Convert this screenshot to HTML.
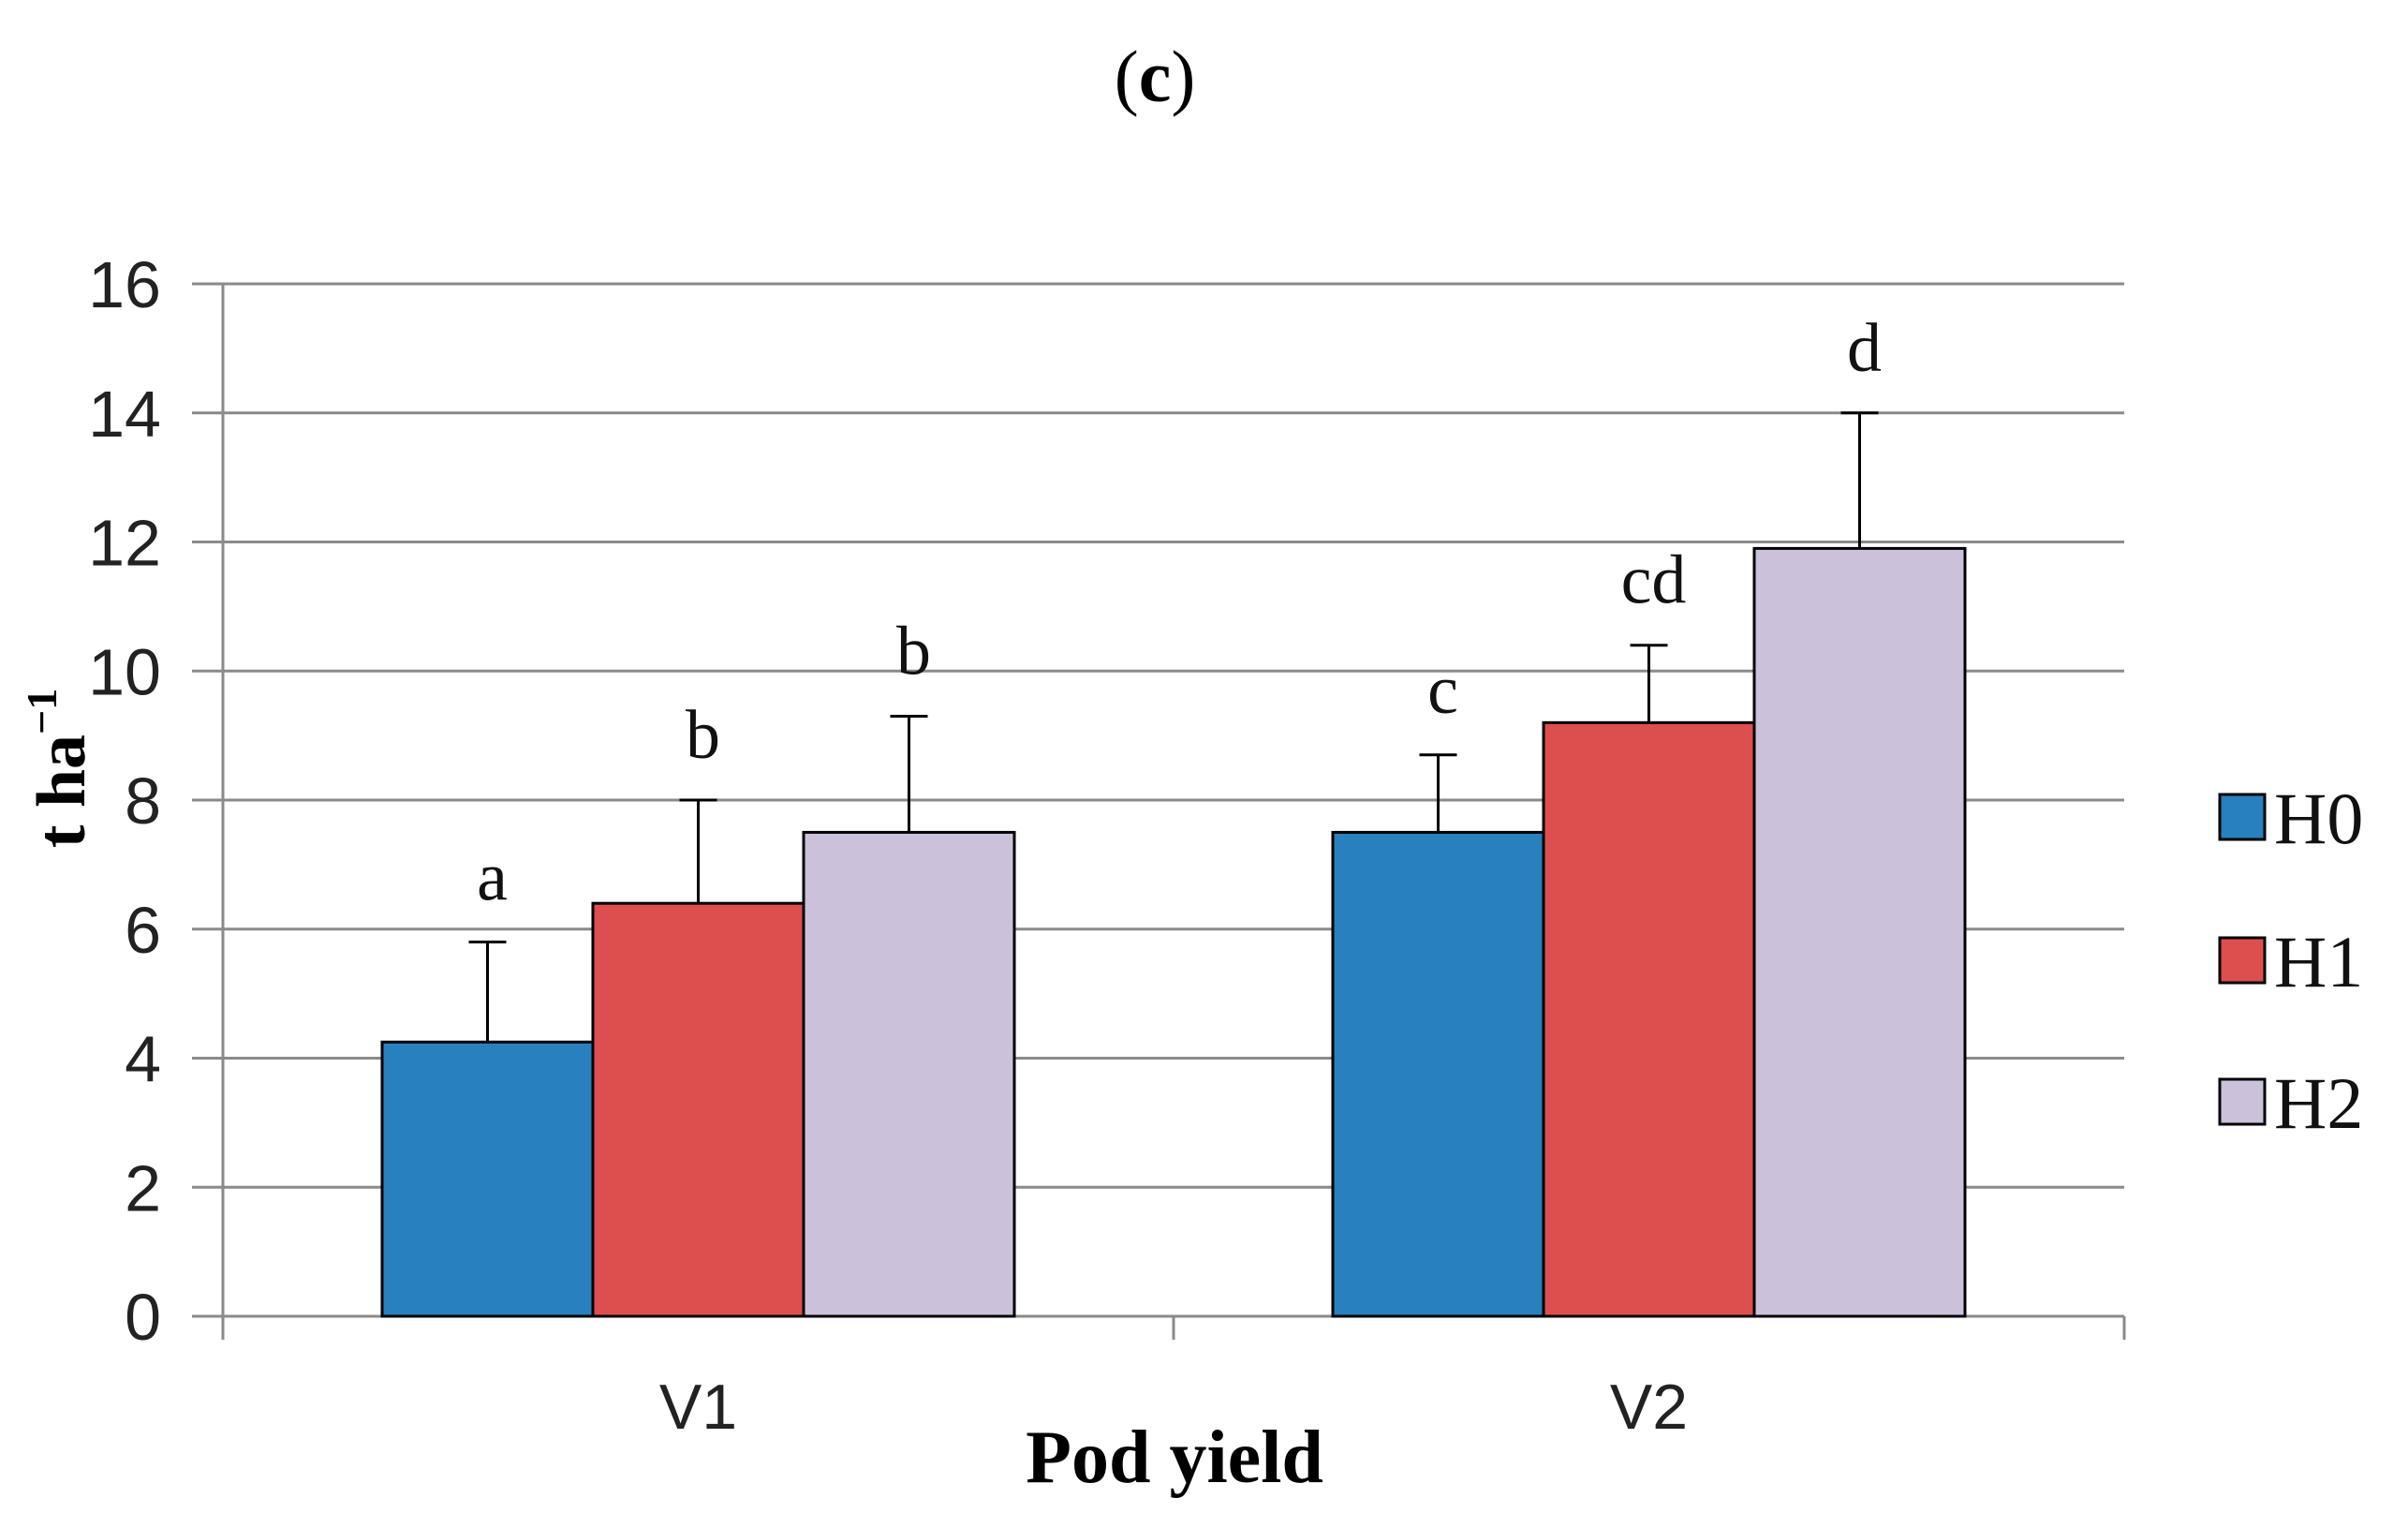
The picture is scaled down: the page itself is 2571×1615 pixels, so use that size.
<!DOCTYPE html>
<html><head><meta charset="utf-8"><style>
html,body{margin:0;padding:0;background:#fff;width:2571px;height:1615px;overflow:hidden}
</style></head><body>
<svg id="chart" width="2571" height="1615" viewBox="0 0 2571 1615" xmlns="http://www.w3.org/2000/svg">
<text x="1233" y="108" text-anchor="middle" font-family="Liberation Serif, serif" font-size="78">(<tspan font-weight="bold">c</tspan>)</text>
<g id="grid"></g>
<g id="bars"></g>
<g id="axes"></g>
<text transform="translate(90,820) rotate(-90)" text-anchor="middle" font-family="Liberation Serif, serif" font-weight="bold" font-size="74">t ha<tspan dy="-30" font-size="46">−1</tspan></text>
<text x="1254" y="1582" text-anchor="middle" font-family="Liberation Serif, serif" font-weight="bold" font-size="80">Pod yield</text>
<g id="legend"></g>
</svg>
<script>
const categories = ["V1", "V2"];
const seriesNames = ["H0", "H1", "H2"];
const H0 = [4.25, 7.5];
const H1 = [6.4, 9.2];
const H2 = [7.5, 11.9];
const errH0 = [1.55, 1.2];
const errH1 = [1.6, 1.2];
const errH2 = [1.8, 2.1];
const lettersH0 = ["a", "c"];
const lettersH1 = ["b", "cd"];
const lettersH2 = ["b", "d"];
const yTicks = [0, 2, 4, 6, 8, 10, 12, 14, 16];

const NS = "http://www.w3.org/2000/svg";
const colors = ["#2880BF", "#DD4F4E", "#CCC1DA"];
const X0 = 238, X1 = 2268, Y0 = 1405, Y1 = 303, YMAX = 16;
const y = v => Y0 - (v / YMAX) * (Y0 - Y1);
const catW = (X1 - X0) / categories.length;
const barW = 225;
const catX = i => X0 + catW * (i + 0.5);
function mk(tag, attrs, parent) {
  const e = document.createElementNS(NS, tag);
  for (const k in attrs) e.setAttribute(k, attrs[k]);
  parent.appendChild(e);
  return e;
}
const grid = document.getElementById('grid');
const axes = document.getElementById('axes');
const barsG = document.getElementById('bars');
const legend = document.getElementById('legend');

yTicks.forEach(t => {
  const l = mk('line', {x1: 205, x2: X1, y1: y(t), y2: y(t), stroke: '#8a8a8a', 'stroke-width': 3}, grid);
  
  
  const tx = mk('text', {x: 172, y: y(t) + 25, 'text-anchor': 'end', 'font-family': 'Liberation Sans, sans-serif', 'font-size': 70, fill: '#222'}, axes);
  tx.textContent = t;
  
  
});
const ya = mk('line', {x1: X0, x2: X0, y1: Y1, y2: 1430, stroke: '#8a8a8a', 'stroke-width': 3}, axes);


for (let i = 0; i <= categories.length; i++) {
  const tk = mk('line', {x1: X0 + catW * i, x2: X0 + catW * i, y1: Y0, y2: 1430, stroke: '#8a8a8a', 'stroke-width': 3}, axes);
  
  
}
categories.forEach((c, i) => {
  const t = mk('text', {x: catX(i), y: 1525, 'text-anchor': 'middle', 'font-family': 'Liberation Sans, sans-serif', 'font-size': 68, fill: '#222'}, axes);
  t.textContent = c;
  
  
});

const series = [H0, H1, H2];
const errs = [errH0, errH1, errH2];
const letters = [lettersH0, lettersH1, lettersH2];
categories.forEach((c, i) => {
  series.forEach((s, j) => {
    const x = catX(i) + (j - 1.5) * barW;
    const v = s[i];
    const r = mk('rect', {x: x, y: y(v), width: barW, height: Y0 - y(v), fill: colors[j], stroke: '#000', 'stroke-width': 3}, barsG);
    
    
    const cx = x + barW / 2, top = y(v + errs[j][i]);
    const e1 = mk('line', {x1: cx, x2: cx, y1: y(v), y2: top, stroke: '#000', 'stroke-width': 3}, barsG);
    
    
    const e2 = mk('line', {x1: cx - 20, x2: cx + 20, y1: top, y2: top, stroke: '#000', 'stroke-width': 3}, barsG);
    
    
    const lt = mk('text', {x: cx + 5, y: top - 45, 'text-anchor': 'middle', 'font-family': 'Liberation Serif, serif', 'font-size': 74, fill: '#111'}, barsG);
    lt.textContent = letters[j][i];
    
    
  });
});

const legY = [872, 1025, 1176];
seriesNames.forEach((n, j) => {
  const r = mk('rect', {x: 2370, y: legY[j] - 24, width: 48, height: 48, fill: colors[j], stroke: '#000', 'stroke-width': 3}, legend);
  
  
  const t = mk('text', {x: 2428, y: legY[j] + 28, 'font-family': 'Liberation Serif, serif', 'font-size': 78, fill: '#111'}, legend);
  t.textContent = n;
  
  
});
</script>
</body></html>
